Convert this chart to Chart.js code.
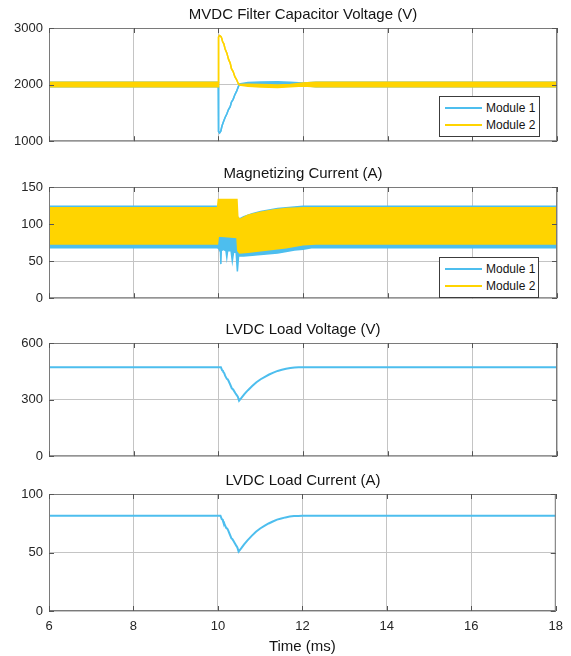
<!DOCTYPE html>
<html>
<head>
<meta charset="utf-8">
<script src="https://cdn.jsdelivr.net/npm/chart.js@4.4.1/dist/chart.umd.min.js"></script>
<style>
html,body{margin:0;padding:0;background:#fff;overflow:hidden;}
body{width:571px;height:656px;position:relative;font-family:"Liberation Sans",Arial,Helvetica,sans-serif;}
.wrap{position:absolute;left:0;width:571px;}
.ttl{position:absolute;left:49px;width:508px;text-align:center;font-size:15px;line-height:18px;color:#141414;white-space:nowrap;}
.leg{position:absolute;background:#fff;border:1px solid #3c3c3c;box-sizing:border-box;font-size:12px;color:#141414;padding-top:3px;}
.leg .row{position:relative;height:17px;line-height:17px;padding-left:46px;white-space:nowrap;}
.leg .sw{position:absolute;left:5px;top:7px;width:37px;height:2px;}
</style>
</head>
<body>
<div class="wrap" style="top:0px;height:155px"><canvas id="c1" width="571" height="155"></canvas></div>
<div class="wrap" style="top:159px;height:153px"><canvas id="c2" width="571" height="153"></canvas></div>
<div class="wrap" style="top:315px;height:155px"><canvas id="c3" width="571" height="155"></canvas></div>
<div class="wrap" style="top:466px;height:190px"><canvas id="c4" width="571" height="190"></canvas></div>
<div class="ttl" id="t1" style="top:5px"></div>
<div class="ttl" id="t2" style="top:164px"></div>
<div class="ttl" id="t3" style="top:320px"></div>
<div class="ttl" id="t4" style="top:471px"></div>
<div class="leg" id="leg1" style="left:439px;top:96px;width:101px;height:41px"></div>
<div class="leg" id="leg2" style="left:439px;top:257px;width:100px;height:41px"></div>
<script>
// ---------------- DATA ----------------
const panelTitles = ['MVDC Filter Capacitor Voltage (V)', 'Magnetizing Current (A)', 'LVDC Load Voltage (V)', 'LVDC Load Current (A)'];
const legendLabels = ['Module 1', 'Module 2'];
const xAxisTitle = 'Time (ms)';
const xTicks = [6, 8, 10, 12, 14, 16, 18];
const capTicks = [1000, 2000, 3000];
const magTicks = [0, 50, 100, 150];
const loadVTicks = [0, 300, 600];
const loadITicks = [0, 50, 100];

// Panel 1: MVDC filter capacitor voltage (ripple envelope: upper / lower)
const capTime  = [6, 10.0, 10.005, 10.03, 10.06, 10.08, 10.1, 10.13, 10.16, 10.2, 10.24, 10.28, 10.31, 10.35, 10.39, 10.43, 10.47, 10.5, 10.7, 11.0, 11.4, 11.7, 12.0, 12.3, 18];
const capM1Hi  = [2040, 2040, 1170, 1145, 1180, 1250, 1300, 1360, 1420, 1480, 1560, 1610, 1690, 1740, 1820, 1880, 1960, 2010, 2035, 2045, 2050, 2040, 2030, 2040, 2040];
const capM1Lo  = [1960, 1960, 1170, 1145, 1180, 1250, 1300, 1360, 1420, 1480, 1560, 1610, 1690, 1740, 1820, 1880, 1960, 2000, 2005, 2008, 2010, 2005, 1985, 1960, 1960];
const capM2Hi  = [2040, 2040, 2840, 2865, 2850, 2820, 2760, 2720, 2630, 2560, 2450, 2380, 2280, 2230, 2140, 2090, 2020, 2000, 2005, 2000, 1995, 2000, 2030, 2040, 2040];
const capM2Lo  = [1960, 1960, 2840, 2865, 2850, 2820, 2760, 2720, 2630, 2560, 2450, 2380, 2280, 2230, 2140, 2090, 2020, 1990, 1970, 1958, 1950, 1962, 1975, 1960, 1960];

// Panel 2: magnetizing current (oscillation envelope: upper / lower)
const magTimeM1 = [6, 9.98, 10.02, 10.05, 10.06, 10.07, 10.12, 10.18, 10.2, 10.22, 10.3, 10.33, 10.36, 10.42, 10.45, 10.48, 10.5, 10.6, 10.8, 11.0, 11.2, 11.4, 11.6, 11.8, 12.0, 12.2, 18];
const magM1Hi   = [124, 124, 122, 120, 120, 120, 118, 116, 116, 116, 114, 114, 112, 110, 110, 108, 107, 110, 114, 117, 119, 121, 122, 123, 124, 124, 124];
const magM1Lo   = [68, 68, 66, 62, 46, 64, 66, 64, 55, 64, 64, 50, 62, 62, 36, 58, 57, 57, 58, 59, 60, 61, 63, 65, 66, 68, 68];
const magTimeM2 = [6, 9.98, 10.0, 10.44, 10.46, 10.5, 10.7, 11.0, 11.3, 11.6, 12.0, 12.3, 18];
const magM2Hi   = [122, 122, 133, 133, 110, 106, 112, 116, 119, 121, 122, 122, 122];
const magM2Lo   = [73, 73, 84, 82, 64, 61, 62, 64, 66, 68, 72, 73, 73];

// Panel 3 & 4: LVDC load voltage / current
const loadTime = [6, 10.06, 10.09, 10.11, 10.12, 10.14, 10.16, 10.2, 10.22, 10.24, 10.28, 10.32, 10.34, 10.36, 10.4, 10.43, 10.46, 10.49, 10.55, 10.62, 10.7, 10.8, 10.9, 11.0, 11.1, 11.2, 11.3, 11.4, 11.5, 11.6, 11.7, 11.8, 11.9, 12.0, 18];
const loadV    = [472, 472, 455, 452, 445, 440, 427, 410, 408, 400, 380, 359, 356, 350, 335, 325, 315, 294, 310, 330, 350, 372, 392, 408, 421, 433, 443, 452, 458, 463, 467, 470, 471, 472, 472];
const loadI    = [81.5, 81.5, 78.6, 78.1, 76.9, 76.0, 73.7, 70.8, 70.5, 69.1, 65.6, 62.0, 61.5, 60.4, 57.9, 56.1, 54.4, 50.8, 53.5, 57.0, 60.4, 64.2, 67.7, 70.5, 72.7, 74.8, 76.5, 78.1, 79.1, 80.0, 80.7, 81.2, 81.3, 81.5, 81.5];

// ---------------- STYLE ----------------
const colM1 = '#4DBEEE';
const colM2 = '#FFD400';
const gridCol = '#c4c4c4';
const boxCol = '#7a7a7a';
const textCol = '#262626';
Chart.defaults.font.family = '"Liberation Sans", Arial, Helvetica, sans-serif';

// titles & legends (real text)
panelTitles.forEach((t, i) => { document.getElementById('t' + (i + 1)).textContent = t; });
function buildLegend(id) {
  const el = document.getElementById(id);
  [colM1, colM2].forEach((c, i) => {
    const row = document.createElement('div'); row.className = 'row';
    const sw = document.createElement('span'); sw.className = 'sw'; sw.style.background = c;
    row.appendChild(sw); row.appendChild(document.createTextNode(legendLabels[i]));
    el.appendChild(row);
  });
}
buildLegend('leg1'); buildLegend('leg2');

const boxPlugin = {
  id: 'matlabBox',
  afterDraw(chart) {
    const {ctx, chartArea: a, scales} = chart;
    ctx.save();
    ctx.strokeStyle = boxCol; ctx.lineWidth = 1;
    ctx.strokeRect(a.left + 0.5, a.top + 0.5, a.right - a.left - 1, a.bottom - a.top - 1);
    ctx.strokeStyle = '#555';
    ctx.beginPath();
    scales.x.ticks.forEach(t => {
      const px = Math.round(scales.x.getPixelForValue(t.value)) + 0.5;
      ctx.moveTo(px, a.bottom); ctx.lineTo(px, a.bottom - 5);
      ctx.moveTo(px, a.top); ctx.lineTo(px, a.top + 5);
    });
    scales.y.ticks.forEach(t => {
      const py = Math.round(scales.y.getPixelForValue(t.value)) + 0.5;
      ctx.moveTo(a.left, py); ctx.lineTo(a.left + 5, py);
      ctx.moveTo(a.right, py); ctx.lineTo(a.right - 5, py);
    });
    ctx.stroke();
    ctx.restore();
  }
};

function pts(times, vals) { return times.map((t, i) => ({x: t, y: vals[i]})); }
function band(label, times, hi, lo, color, order) {
  return [
    {label: label, data: pts(times, hi), borderColor: color, backgroundColor: color, borderWidth: 1.5, pointRadius: 0, fill: '+1', order: order, tension: 0},
    {label: label + ' min', data: pts(times, lo), borderColor: color, backgroundColor: color, borderWidth: 1.5, pointRadius: 0, fill: false, order: order, tension: 0}
  ];
}
function line(label, times, vals, color) {
  return {label: label, data: pts(times, vals), borderColor: color, backgroundColor: color, borderWidth: 2, pointRadius: 0, fill: false, tension: 0};
}

function makeChart(id, datasets, yTicks, showX) {
  return new Chart(document.getElementById(id), {
    type: 'line',
    data: {datasets: datasets},
    options: {
      responsive: false,
      animation: false,
      events: [],
      layout: {padding: {top: 28, right: 14, left: 0, bottom: showX ? 0 : 10}},
      plugins: {legend: {display: false}, tooltip: {enabled: false}, title: {display: false}},
      scales: {
        x: {
          type: 'linear', min: xTicks[0], max: xTicks[xTicks.length - 1],
          afterBuildTicks: s => { s.ticks = xTicks.map(v => ({value: v})); },
          ticks: {display: showX, padding: 8, color: textCol, font: {size: 13}, callback: v => String(v)},
          grid: {color: gridCol, lineWidth: 1, drawTicks: false},
          border: {display: false},
          title: {display: showX, text: xAxisTitle, color: '#141414', font: {size: 15}, padding: {top: 0, bottom: 0}},
          afterFit: s => { s.height = showX ? 45 : 0; }
        },
        y: {
          type: 'linear', min: yTicks[0], max: yTicks[yTicks.length - 1],
          afterBuildTicks: s => { s.ticks = yTicks.map(v => ({value: v})); },
          ticks: {padding: 6, color: textCol, font: {size: 13}, callback: v => String(v)},
          grid: {color: gridCol, lineWidth: 1, drawTicks: false},
          border: {display: false},
          afterFit: s => { s.width = 49; }
        }
      }
    },
    plugins: [boxPlugin]
  });
}

makeChart('c1', [
  ...band(legendLabels[1], capTime, capM2Hi, capM2Lo, colM2, 0),
  ...band(legendLabels[0], capTime, capM1Hi, capM1Lo, colM1, 1)
], capTicks, false);

makeChart('c2', [
  ...band(legendLabels[1], magTimeM2, magM2Hi, magM2Lo, colM2, 0),
  ...band(legendLabels[0], magTimeM1, magM1Hi, magM1Lo, colM1, 1)
], magTicks, false);

makeChart('c3', [line(legendLabels[0], loadTime, loadV, colM1)], loadVTicks, false);
makeChart('c4', [line(legendLabels[0], loadTime, loadI, colM1)], loadITicks, true);
</script>
</body>
</html>
